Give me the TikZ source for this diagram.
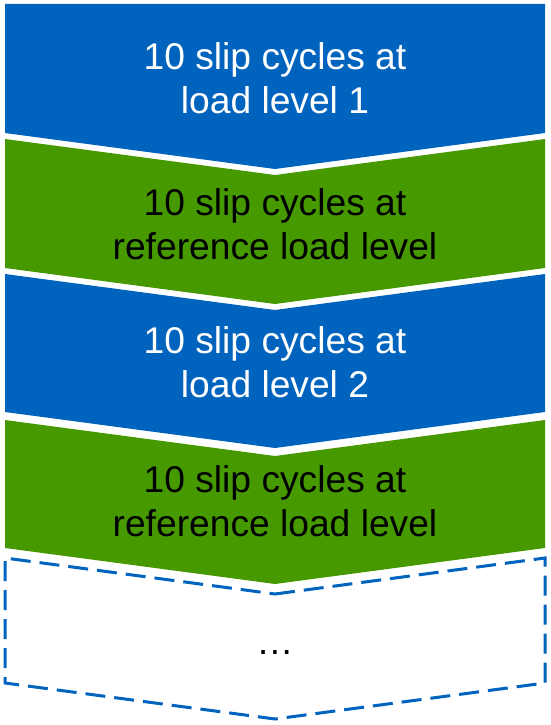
\documentclass[tikz,border=0pt]{standalone}
\usepackage{fontspec}
\setmainfont{Liberation Sans}
\definecolor{stepblue}{RGB}{0,99,190}
\definecolor{stepgreen}{RGB}{71,153,0}
\tikzset{
  bluebox/.style={fill=stepblue, draw=none},
  greenbox/.style={fill=stepgreen, draw=none},
  dashbox/.style={draw=stepblue, line width=3pt, dash pattern=on 20pt off 9pt, line join=miter},
  label/.style={inner sep=0pt, align=center, anchor=north, font=\fontsize{37.2}{43.5}\selectfont},
  whitetext/.style={label, text=white},
  blacktext/.style={label, text=black}
}
\begin{document}
\begin{tikzpicture}[x=1pt,y=-1pt]
\useasboundingbox (0,0) rectangle (550,725);
% box 1
\path[bluebox] (5,4) -- (545,4) -- (545,133) -- (275,169) -- (5,133) -- cycle;
% box 2
\path[greenbox] (5,139) -- (275,175) -- (545,139) -- (545,268) -- (275,304) -- (5,268) -- cycle;
% box 3
\path[bluebox] (5,274) -- (275,310) -- (545,274) -- (545,412) -- (275,448) -- (5,412) -- cycle;
% box 4
\path[greenbox] (5,420) -- (275,456) -- (545,420) -- (545,548) -- (275,584) -- (5,548) -- cycle;
% dashed box
\draw[dashbox] (275,594) -- (545,558) -- (545,683) -- (275,719) -- (5,683) -- (5,558) -- cycle;

\node[whitetext] (t1) at (275,42.4) {10 slip cycles at\\load level 1};
\node[blacktext] (t2) at (275,188.4) {10 slip cycles at\\reference load level};
\node[whitetext] (t3) at (275,326.4) {10 slip cycles at\\load level 2};
\node[blacktext] (t4) at (275,465.4) {10 slip cycles at\\reference load level};
\node[inner sep=0pt, anchor=base, font=\fontsize{37.2}{43.5}\selectfont] (t5) at (275,654) {…};
\end{tikzpicture}
\end{document}
